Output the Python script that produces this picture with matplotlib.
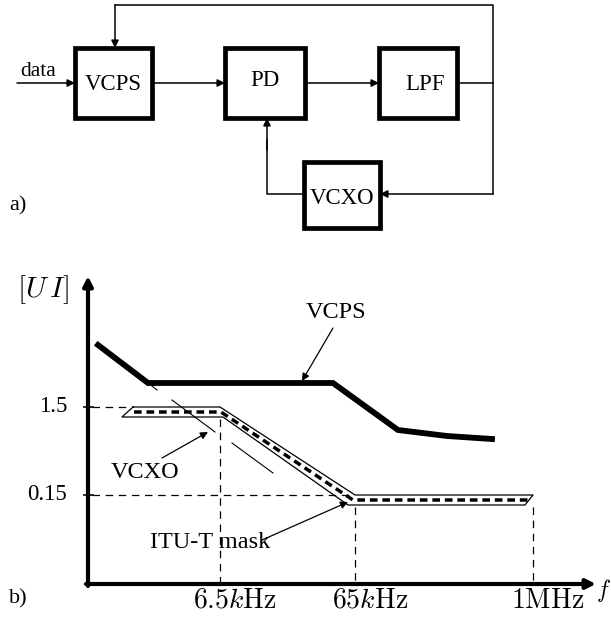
import matplotlib.pyplot as plt
import numpy as np

plt.rcParams['mathtext.fontset'] = 'cm'
SERIF = 'Liberation Serif'

# ---- a) block diagram (pixel coords, y down) ----
boxes = {
    "VCPS": (75, 48, 152, 118),
    "PD": (225, 48, 305, 118),
    "LPF": (379, 48, 457, 118),
    "VCXO": (304, 162, 380, 228),
}
box_text = {"VCPS": (113, 84), "PD": (265, 81), "LPF": (425, 84), "VCXO": (342, 198)}

# plain connection lines (polylines)
wires = [
    ([115, 493, 493], [5, 5, 194]),
    ([457, 493], [83, 83]),
    ([304, 267, 267], [194, 194, 140]),
]
# arrows: (start, end)
arrows = [
    ((17, 83), (75, 83)),
    ((152, 83), (225, 83)),
    ((305, 83), (379, 83)),
    ((115, 5), (115, 48)),
    ((493, 194), (380, 194)),
    ((267, 150), (267, 118)),
]

# ---- b) jitter tolerance chart ----
vcps_x = [98, 148, 333, 398, 447, 492]
vcps_y = [345, 383, 383, 430, 436, 439]

band_x = [133, 220, 355, 533, 525, 348, 223, 122, 133]
band_y = [407, 407, 495, 495, 505, 505, 417, 417, 407]

mask_x = [134, 221, 353, 528]
mask_y = [412, 412, 500, 500]

guide_x = [(152, 157), (172, 215), (232, 273)]
guide_y = [(386, 390), (400, 432), (443, 473)]

ytick_vals = [407, 495]
ytick_labels = ["1.5", "0.15"]
xtick_vals = [220, 355, 533]
xtick_labels = [r"$6.5k\mathrm{Hz}$", r"$65k\mathrm{Hz}$", r"$1\mathrm{MHz}$"]

fig = plt.figure(figsize=(6.11, 6.22), dpi=100)
ax = fig.add_axes([0, 0, 1, 1])
ax.set_xlim(0, 611)
ax.set_ylim(622, 0)
ax.axis('off')

ap_thin = dict(arrowstyle='-|>', mutation_scale=11, lw=1.1, color='k',
               shrinkA=0, shrinkB=0)

for name, (x0, y0, x1, y1) in boxes.items():
    ax.add_patch(plt.Rectangle((x0, y0), x1 - x0, y1 - y0, fill=False,
                               lw=3.4, ec='k', joinstyle='miter'))
    tx, ty = box_text[name]
    ax.text(tx, ty, name, ha='center', va='center', fontsize=16.5, family=SERIF)

for xs, ys in wires:
    ax.plot(xs, ys, color='k', lw=1.1)
for s, e in arrows:
    ax.annotate('', xy=e, xytext=s, arrowprops=ap_thin)

ax.text(38, 72, "data", ha='center', va='center', fontsize=15.5, family=SERIF)
ax.text(18, 206, "a)", ha='center', va='center', fontsize=16, family=SERIF)

# axes of the chart
ax.annotate('', xy=(88, 276), xytext=(88, 586),
            arrowprops=dict(arrowstyle='-|>', mutation_scale=14, lw=3, color='k',
                            shrinkA=0, shrinkB=0))
ax.annotate('', xy=(596, 584), xytext=(86, 584),
            arrowprops=dict(arrowstyle='-|>', mutation_scale=14, lw=3, color='k',
                            shrinkA=0, shrinkB=0))
ax.text(43, 290, r"$[U\,I]$", ha='center', va='center', fontsize=21)
ax.text(596, 590, r"$f$", ha='left', va='center', fontsize=17)
ax.text(18, 599, "b)", ha='center', va='center', fontsize=16, family=SERIF)

for yv, lab in zip(ytick_vals, ytick_labels):
    ax.plot([84, 93], [yv, yv], color='k', lw=1.2)
    ax.text(67, yv, lab, ha='right', va='center', fontsize=16.5, family=SERIF)
for xv, lab in zip(xtick_vals, xtick_labels):
    ax.text(xv + 15, 600, lab, ha='center', va='center', fontsize=20)

dash = dict(color='k', lw=0.9, ls=(0, (6, 4.5)))
ax.plot([92, 127], [407, 407], **dash)
ax.plot([92, 352], [495, 495], **dash)
ax.plot([220, 220], [419, 582], **dash)
ax.plot([355, 355], [507, 582], **dash)
ax.plot([533, 533], [507, 582], **dash)

ax.plot(band_x, band_y, color='k', lw=0.9)
ax.plot(mask_x, mask_y, color='k', lw=2.5, ls=(0, (2.2, 1.4)), solid_capstyle='butt',
        dash_capstyle='butt')
for gx, gy in zip(guide_x, guide_y):
    ax.plot(gx, gy, color='k', lw=0.8)

ax.plot(vcps_x, vcps_y, color='k', lw=4.2, solid_joinstyle='miter')

ax.text(336, 312, "VCPS", ha='center', va='center', fontsize=17.5, family=SERIF)
ax.annotate('', xy=(302, 381), xytext=(333, 328), arrowprops=dict(ap_thin, lw=0.9))
ax.text(145, 473, "VCXO", ha='center', va='center', fontsize=17.5, family=SERIF)
ax.annotate('', xy=(208, 432), xytext=(162, 458), arrowprops=dict(ap_thin, lw=0.9))
ax.text(210, 543, "ITU-T mask", ha='center', va='center', fontsize=17.5, family=SERIF)
ax.annotate('', xy=(348, 502), xytext=(262, 540), arrowprops=dict(ap_thin, lw=0.9))

fig.savefig('out.png', dpi=100, facecolor='white')
